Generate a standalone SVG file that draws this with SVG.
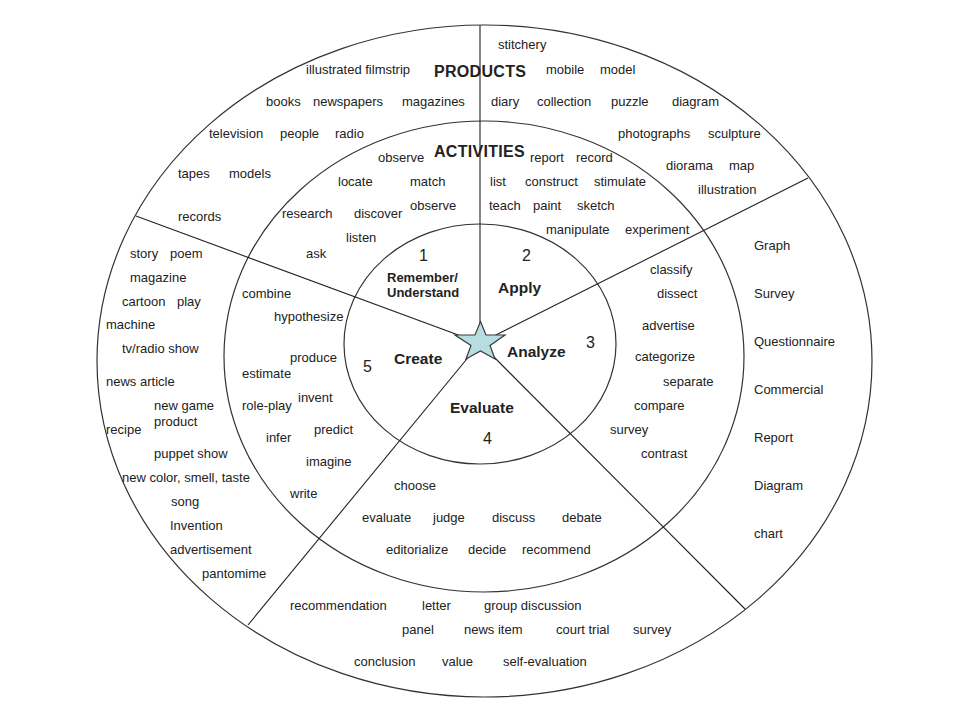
<svg xmlns="http://www.w3.org/2000/svg" width="960" height="720" viewBox="0 0 960 720">
<style>
.ring{fill:none;stroke:#333;stroke-width:1.2}
.sp{stroke:#222;stroke-width:1.1}
text{font-family:"Liberation Sans",Arial,sans-serif;fill:#222}
.t{font-size:13px}
.h{font-size:16px;font-weight:bold;letter-spacing:0.3px}
.lv{font-size:15.5px;font-weight:bold}
.n{font-size:16px}
.ru{font-size:13px;font-weight:bold}
</style>
<rect width="960" height="720" fill="#fff"/>
<g id="rings">
<ellipse class="ring" cx="484.5" cy="361" rx="387.5" ry="336"/>
<ellipse class="ring" cx="484" cy="356.5" rx="260" ry="235.5"/>
<ellipse class="ring" cx="480" cy="344" rx="136" ry="120"/>
</g>
<g id="connectors">
<line class="sp" x1="480" y1="25" x2="480" y2="343"/>
<line class="sp" x1="136" y1="216" x2="480" y2="343"/>
<line class="sp" x1="808" y1="178" x2="480" y2="343"/>
<line class="sp" x1="745" y1="609" x2="480" y2="343"/>
<line class="sp" x1="248" y1="625" x2="480" y2="343"/>
</g>
<g id="star">
<polygon points="480.5,321.5 486,335 505,335 490,345.5 495,359 480.5,351 466,359 471,345.5 455,335 475,335" fill="#b8dde1" stroke="#3a3a3a" stroke-width="1.2"/>
</g>
<g id="center-labels">
<text class="n" x="419" y="261">1</text>
<text class="n" x="522" y="261">2</text>
<text class="n" x="586" y="348">3</text>
<text class="n" x="483" y="444">4</text>
<text class="n" x="363" y="372">5</text>
<text class="ru" x="387" y="282">Remember/</text>
<text class="ru" x="387" y="297">Understand</text>
<text class="lv" x="498" y="293">Apply</text>
<text class="lv" x="507" y="357">Analyze</text>
<text class="lv" x="394" y="364">Create</text>
<text class="lv" x="450" y="413">Evaluate</text>
</g>
<g id="products">
<text class="h" x="434" y="77">PRODUCTS</text>
<text class="t" x="498" y="49">stitchery</text>
<text class="t" x="306" y="74">illustrated filmstrip</text>
<text class="t" x="546" y="74">mobile</text>
<text class="t" x="600" y="74">model</text>
<text class="t" x="266" y="106">books</text>
<text class="t" x="313" y="106">newspapers</text>
<text class="t" x="402" y="106">magazines</text>
<text class="t" x="491" y="106">diary</text>
<text class="t" x="537" y="106">collection</text>
<text class="t" x="611" y="106">puzzle</text>
<text class="t" x="672" y="106">diagram</text>
<text class="t" x="209" y="138">television</text>
<text class="t" x="280" y="138">people</text>
<text class="t" x="335" y="138">radio</text>
<text class="t" x="618" y="138">photographs</text>
<text class="t" x="708" y="138">sculpture</text>
<text class="t" x="178" y="178">tapes</text>
<text class="t" x="229" y="178">models</text>
<text class="t" x="178" y="221">records</text>
<text class="t" x="666" y="170">diorama</text>
<text class="t" x="729" y="170">map</text>
<text class="t" x="698" y="194">illustration</text>
<text class="t" x="130" y="258">story</text>
<text class="t" x="170" y="258">poem</text>
<text class="t" x="130" y="282">magazine</text>
<text class="t" x="122" y="306">cartoon</text>
<text class="t" x="177" y="306">play</text>
<text class="t" x="106" y="329">machine</text>
<text class="t" x="122" y="353">tv/radio show</text>
<text class="t" x="106" y="386">news article</text>
<text class="t" x="154" y="410">new game</text>
<text class="t" x="154" y="426">product</text>
<text class="t" x="106" y="434">recipe</text>
<text class="t" x="154" y="458">puppet show</text>
<text class="t" x="122" y="482">new color, smell, taste</text>
<text class="t" x="171" y="506">song</text>
<text class="t" x="170" y="530">Invention</text>
<text class="t" x="170" y="554">advertisement</text>
<text class="t" x="202" y="578">pantomime</text>
<text class="t" x="754" y="250">Graph</text>
<text class="t" x="754" y="298">Survey</text>
<text class="t" x="754" y="346">Questionnaire</text>
<text class="t" x="754" y="394">Commercial</text>
<text class="t" x="754" y="442">Report</text>
<text class="t" x="754" y="490">Diagram</text>
<text class="t" x="754" y="538">chart</text>
<text class="t" x="290" y="610">recommendation</text>
<text class="t" x="422" y="610">letter</text>
<text class="t" x="484" y="610">group discussion</text>
<text class="t" x="402" y="634">panel</text>
<text class="t" x="464" y="634">news item</text>
<text class="t" x="556" y="634">court trial</text>
<text class="t" x="633" y="634">survey</text>
<text class="t" x="354" y="666">conclusion</text>
<text class="t" x="442" y="666">value</text>
<text class="t" x="503" y="666">self-evaluation</text>
</g>
<g id="activities">
<text class="h" x="434" y="157">ACTIVITIES</text>
<text class="t" x="378" y="162">observe</text>
<text class="t" x="530" y="162">report</text>
<text class="t" x="576" y="162">record</text>
<text class="t" x="338" y="186">locate</text>
<text class="t" x="410" y="186">match</text>
<text class="t" x="490" y="186">list</text>
<text class="t" x="525" y="186">construct</text>
<text class="t" x="594" y="186">stimulate</text>
<text class="t" x="410" y="210">observe</text>
<text class="t" x="489" y="210">teach</text>
<text class="t" x="533" y="210">paint</text>
<text class="t" x="577" y="210">sketch</text>
<text class="t" x="282" y="218">research</text>
<text class="t" x="354" y="218">discover</text>
<text class="t" x="546" y="234">manipulate</text>
<text class="t" x="625" y="234">experiment</text>
<text class="t" x="346" y="242">listen</text>
<text class="t" x="306" y="258">ask</text>
<text class="t" x="650" y="274">classify</text>
<text class="t" x="242" y="298">combine</text>
<text class="t" x="657" y="298">dissect</text>
<text class="t" x="274" y="321">hypothesize</text>
<text class="t" x="642" y="330">advertise</text>
<text class="t" x="290" y="362">produce</text>
<text class="t" x="635" y="361">categorize</text>
<text class="t" x="242" y="378">estimate</text>
<text class="t" x="663" y="386">separate</text>
<text class="t" x="298" y="402">invent</text>
<text class="t" x="242" y="410">role-play</text>
<text class="t" x="634" y="410">compare</text>
<text class="t" x="314" y="434">predict</text>
<text class="t" x="610" y="434">survey</text>
<text class="t" x="266" y="442">infer</text>
<text class="t" x="641" y="458">contrast</text>
<text class="t" x="306" y="466">imagine</text>
<text class="t" x="394" y="490">choose</text>
<text class="t" x="290" y="498">write</text>
<text class="t" x="362" y="522">evaluate</text>
<text class="t" x="433" y="522">judge</text>
<text class="t" x="492" y="522">discuss</text>
<text class="t" x="562" y="522">debate</text>
<text class="t" x="386" y="554">editorialize</text>
<text class="t" x="468" y="554">decide</text>
<text class="t" x="522" y="554">recommend</text>
</g>
</svg>
